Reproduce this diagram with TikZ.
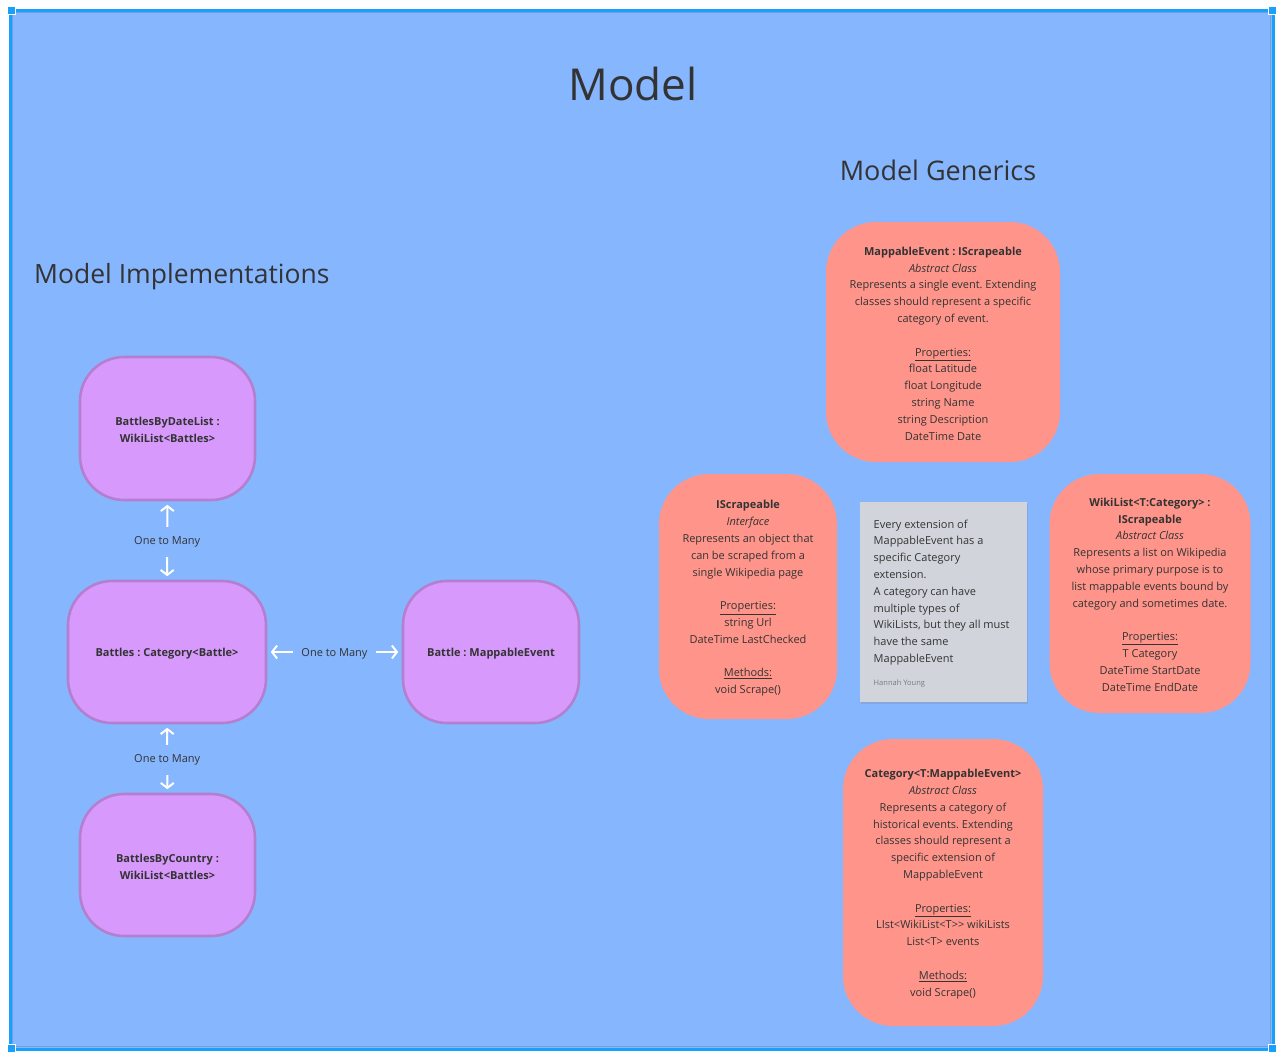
\documentclass[tikz,border=0pt]{standalone}
\usepackage{fontspec}
\setmainfont{Open Sans}
\frenchspacing
\usetikzlibrary{arrows.meta,shadows}
\definecolor{bgblue}{HTML}{86B6FE}
\definecolor{framebl}{HTML}{18A0FB}
\definecolor{frameinner}{HTML}{6E9EE6}
\definecolor{purplefill}{HTML}{D899FD}
\definecolor{purpleline}{HTML}{B57FD0}
\definecolor{redfill}{HTML}{FF958A}
\definecolor{notefill}{HTML}{D1D5DB}
\definecolor{txt}{HTML}{333333}
\definecolor{authorc}{HTML}{7A7A7A}
\tikzset{
  body/.style={font=\fontsize{11}{16.8}\selectfont, text=txt},
  impl/.style={draw=purpleline, line width=2.6pt, fill=purplefill, rounded corners=44pt},
  itext/.style={body, align=center, inner sep=0pt, font=\fontsize{11}{16.8}\selectfont\bfseries},
  generic/.style={fill=redfill, rounded corners=50pt},
  gtext/.style={body, align=center, inner sep=0pt},
  wa/.style={draw=white, line width=2pt, {Straight Barb[length=5pt,width=13pt]}-{Straight Barb[length=5pt,width=13pt]}, shorten <=3.5pt, shorten >=3.5pt},
  rel/.style={midway, yshift=-1.5pt, fill=bgblue, inner xsep=8pt, inner ysep=10pt, font=\fontsize{11}{14}\selectfont, text=txt},
  handle/.style={fill=framebl, draw=white, line width=0.8pt, minimum size=8pt, inner sep=0pt},
  heading/.style={text=txt, inner sep=0pt}
}
\begin{document}
\begin{tikzpicture}[x=1pt,y=-1pt]
\useasboundingbox (0,0) rectangle (1282,1058);
% frame
\fill[white] (0,0) rectangle (1282,1058);
\fill[bgblue] (10,10) rectangle (1273,1049);
\draw[frameinner, line width=1pt] (12.5,12.5) rectangle (1270.5,1046.5);
\draw[framebl, line width=3pt] (10,10) rectangle (1273,1049);
\node[handle] (h1) at (11,10.5) {};
\node[handle] (h2) at (1272.5,10.5) {};
\node[handle] (h3) at (11,1048.5) {};
\node[handle] (h4) at (1272.5,1048.5) {};

% headings
\node[heading, font=\fontsize{44}{50}\selectfont] (title) at (633,83.5) {Model};
\node[heading, font=\fontsize{27}{32}\selectfont] (gen) at (938,170.5) {Model Generics};
\node[heading, font=\fontsize{26.5}{32}\selectfont, anchor=west] (imp) at (34,277) {Model Implementations};

% implementation nodes
\node[impl, minimum width=175pt, minimum height=143pt] (bydate) at (167.5,428.5) {};
\node[itext] (bydatetext) at (167.5,430) {BattlesByDateList :\\WikiList<Battles>};
\node[impl, minimum width=198pt, minimum height=142pt] (battles) at (167,652) {};
\node[itext] (battlestext) at (167,654) {Battles : Category<Battle>};
\node[impl, minimum width=176pt, minimum height=142pt] (battle) at (491,652) {};
\node[itext] (battletext) at (491,654) {Battle : MappableEvent};
\node[impl, minimum width=175pt, minimum height=142pt] (bycountry) at (167.5,865) {};
\node[itext] (bycountrytext) at (167.5,866.5) {BattlesByCountry :\\WikiList<Battles>};

\draw[wa] (bydate) -- (battles) node[rel] (l1) {One to Many};
\draw[wa] (battles) -- (battle) node[rel] (l2) {One to Many};
\draw[wa] (battles) -- (bycountry) node[rel] (l3) {One to Many};

% generic nodes
\node[generic, minimum width=234pt, minimum height=240pt] (mappable) at (943,342) {};
\node[gtext] (mappabletext) at (943,343.5) {%
\textbf{MappableEvent : IScrapeable}\\
\textit{Abstract Class}\\
Represents a single event. Extending\\
classes should represent a specific\\
category of event.\\[16.8pt]
\underline{Properties:}\\
float Latitude\\
float Longitude\\
string Name\\
string Description\\
DateTime Date};

\node[generic, minimum width=178pt, minimum height=245pt] (iscrape) at (748,596.5) {};
\node[gtext] (iscrapetext) at (748,598.5) {%
\textbf{IScrapeable}\\
\textit{Interface}\\
Represents an object that\\
can be scraped from a\\
single Wikipedia page\\[16.8pt]
\underline{Properties:}\\
string Url\\
DateTime LastChecked\\[16.8pt]
\underline{Methods:}\\
void Scrape()};

\node[generic, minimum width=201pt, minimum height=239pt] (wikilist) at (1150,593.5) {};
\node[gtext] (wikilisttext) at (1150,594.5) {%
\textbf{WikiList<T:Category> :}\\
\textbf{IScrapeable}\\
\textit{Abstract Class}\\
Represents a list on Wikipedia\\
whose primary purpose is to\\
list mappable events bound by\\
category and sometimes date.\\[16.8pt]
\underline{Properties:}\\
T Category\\
DateTime StartDate\\
DateTime EndDate};

\node[generic, minimum width=200pt, minimum height=287pt] (category) at (943,882.5) {};
\node[gtext] (categorytext) at (943,884) {%
\textbf{Category<T:MappableEvent>}\\
\textit{Abstract Class}\\
Represents a category of\\
historical events. Extending\\
classes should represent a\\
specific extension of\\
MappableEvent\\[16.8pt]
\underline{Properties:}\\
LIst<WikiList<T>{}> wikiLists\\
List<T> events\\[16.8pt]
\underline{Methods:}\\
void Scrape()};

% sticky note
\node[fill=notefill, minimum width=167pt, minimum height=200pt, inner sep=0pt, drop shadow={shadow xshift=0.5pt, shadow yshift=-2pt, opacity=0.25}] (note) at (943.5,602) {};
\node[body, anchor=north west, inner sep=0pt, align=left] (notetext) at (873.5,519.5) {%
Every extension of\\
MappableEvent has a\\
specific Category\\
extension.\\
A category can have\\
multiple types of\\
WikiLists, but they all must\\
have the same\\
MappableEvent};
\node[anchor=west, inner sep=0pt, text=authorc, font=\fontsize{7.5}{9}\selectfont] (author) at (873.5,684) {Hannah Young};
\end{tikzpicture}
\end{document}
